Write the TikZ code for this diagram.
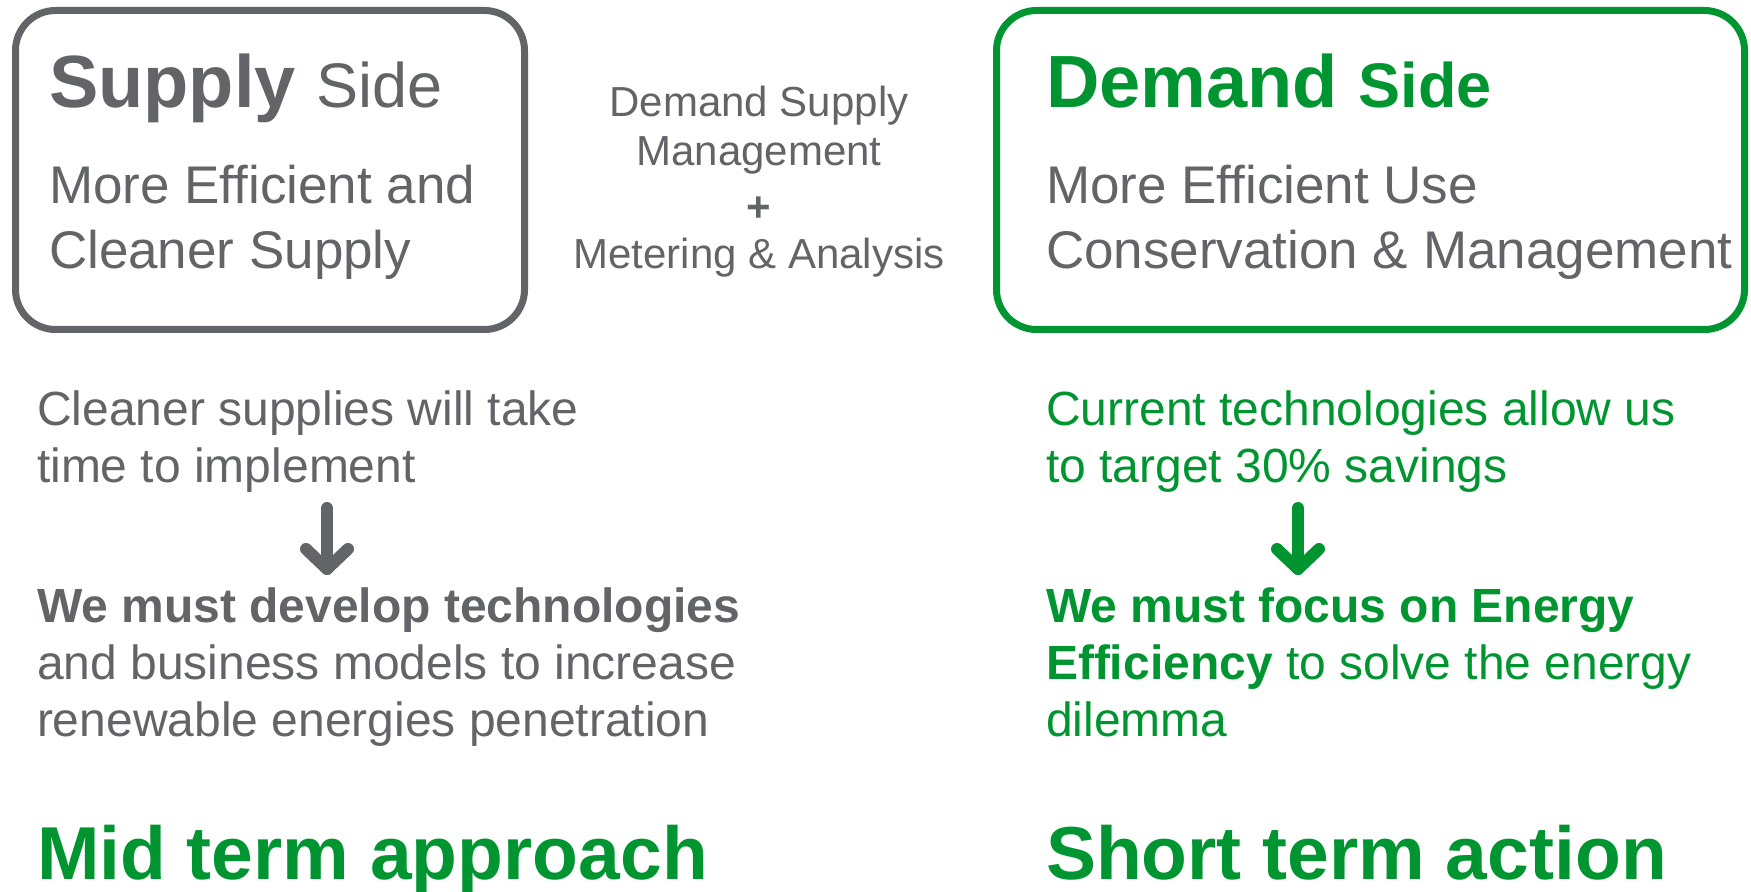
\documentclass[tikz,border=0pt]{standalone}
\usepackage{fontspec}
\setmainfont{Liberation Sans}
\definecolor{sgray}{HTML}{636468}
\definecolor{sgreen}{HTML}{009530}
\tikzset{
  txt/.style={inner sep=0pt, outer sep=0pt, anchor=base west},
  ctxt/.style={inner sep=0pt, outer sep=0pt, anchor=base},
  panel/.style={line width=3.5pt, rounded corners=20pt},
  bigarrow/.style={line width=6pt, line cap=round, line join=round},
  body/.style={font=\fontsize{26.5}{30}\selectfont},
  mid/.style={font=\fontsize{21}{25}\selectfont},
  low/.style={font=\fontsize{24}{28}\selectfont},
  foot/.style={font=\fontsize{37.5}{42}\selectfont\bfseries, text=sgreen},
}
\begin{document}
\begin{tikzpicture}[x=0.5pt,y=-0.5pt]
\useasboundingbox (0,0) rectangle (1751,892);
% panels
\draw[panel, draw=sgray] (15.5,10.5) rectangle (524.5,329.5);
\draw[panel, draw=sgreen] (996.5,10.5) rectangle (1744.5,329.5);
% supply side box text
\node[txt, text=sgray] (st) at (49,108) {\fontsize{37}{42}\selectfont\bfseries Supply {\mdseries\fontsize{31.5}{36}\selectfont Side}};
\node[txt, body, text=sgray] (s1) at (49,204) {More Efficient and};
\node[txt, body, text=sgray] (s2) at (49,269) {Cleaner Supply};
% demand side box text
\node[txt, text=sgreen] (dt) at (1046,108) {\fontsize{37}{42}\selectfont\bfseries Demand {\fontsize{31.5}{36}\selectfont Side}};
\node[txt, body, text=sgray] (d1) at (1046,204) {More Efficient Use};
\node[txt, body, text=sgray] (d2) at (1046,269) {Conservation \& Management};
% middle text
\node[ctxt, mid, text=sgray] (m1) at (759,117) {Demand Supply};
\node[ctxt, mid, text=sgray] (m2) at (759,166) {Management};
\node[inner sep=0pt, mid, text=sgray, font=\fontsize{21}{25}\selectfont\bfseries] (m3) at (759,209) {+};
\node[ctxt, mid, text=sgray] (m4) at (759,269) {Metering \& Analysis};
% lower left
\node[txt, low, text=sgray] (l1) at (37,426) {Cleaner supplies will take};
\node[txt, low, text=sgray] (l2) at (37,483) {time to implement};
\node[txt, low, text=sgray] (l3) at (37,623) {\bfseries We must develop technologies};
\node[txt, low, text=sgray] (l4) at (37,679) {and business models to increase};
\node[txt, low, text=sgray] (l5) at (37,736) {renewable energies penetration};
% lower right
\node[txt, low, text=sgreen] (r1) at (1046,426) {Current technologies allow us};
\node[txt, low, text=sgreen] (r2) at (1046,483) {to target 30\% savings};
\node[txt, low, text=sgreen] (r3) at (1046,623) {\bfseries We must focus on Energy};
\node[txt, low, text=sgreen] (r4) at (1046,679) {{\bfseries Efficiency} to solve the energy};
\node[txt, low, text=sgreen] (r5) at (1046,736) {dilemma};
% arrows
\coordinate (la) at (327,508);
\coordinate (lb) at (327,569);
\coordinate (lw1) at (306,549);
\coordinate (lw2) at (348,549);
\draw[bigarrow, sgray] (la) -- (lb);
\draw[bigarrow, sgray] (lw1) -- (lb) -- (lw2);
\coordinate (ra) at (1298,508);
\coordinate (rb) at (1298,569);
\coordinate (rw1) at (1277,549);
\coordinate (rw2) at (1319,549);
\draw[bigarrow, sgreen] (ra) -- (rb);
\draw[bigarrow, sgreen] (rw1) -- (rb) -- (rw2);
% footers
\node[txt, foot] (f1) at (37,879) {Mid term approach};
\node[txt, foot] (f2) at (1046,879) {Short term action};
\end{tikzpicture}
\end{document}
